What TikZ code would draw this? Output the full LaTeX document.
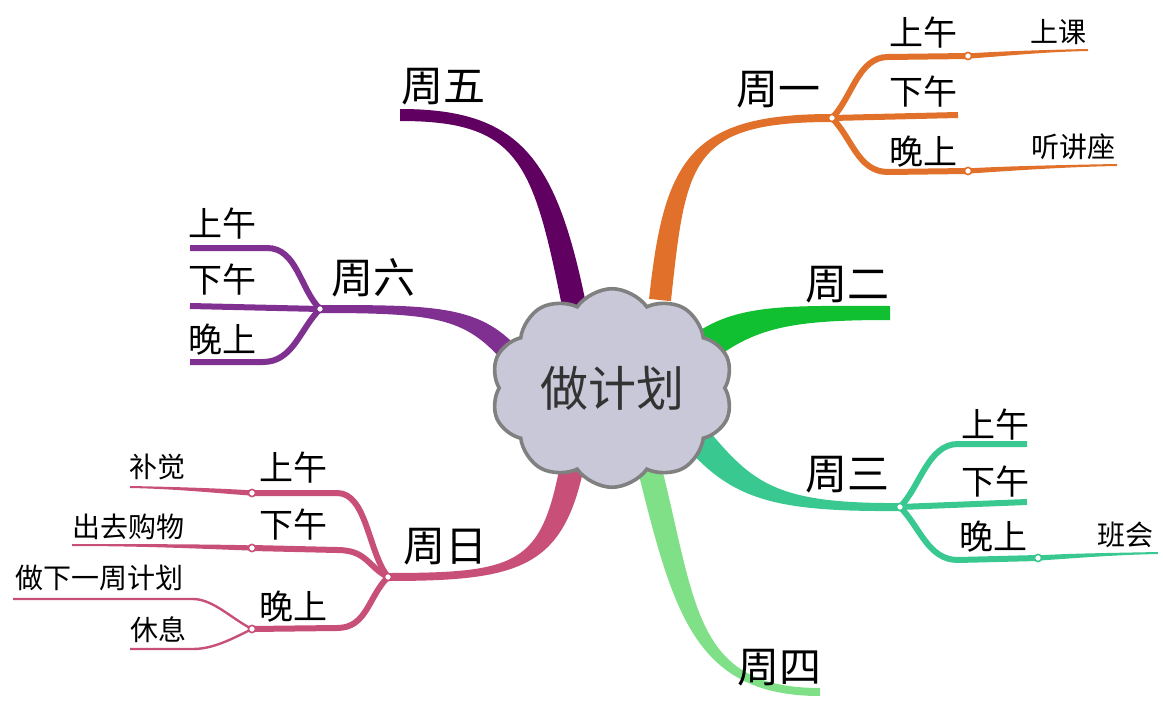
\documentclass[tikz,border=0pt]{standalone}
\usepackage{fontspec}
\setmainfont{Noto Sans CJK SC}
\usetikzlibrary{calc,shapes.symbols}

\definecolor{mon}{HTML}{E0702A}
\definecolor{tue}{HTML}{10C030}
\definecolor{wed}{HTML}{38C890}
\definecolor{thu}{HTML}{80E088}
\definecolor{fri}{HTML}{600060}
\definecolor{sat}{HTML}{803090}
\definecolor{sun}{HTML}{C85078}
\definecolor{cloudfill}{HTML}{C8C8D8}

% tapered branch: colour, start, control 1, control 2, end, half width at start, half width at end
\newcommand{\mapbranch}[7]{%
  \fill[#1] ($(#2)!#6!90:(#3)$) .. controls ($(#3)!#6!-90:(#2)$) and ($(#4)!#7!90:(#5)$) .. ($(#5)!#7!-90:(#4)$)
    -- ($(#5)!#7!90:(#4)$) .. controls ($(#4)!#7!-90:(#5)$) and ($(#3)!#6!90:(#2)$) .. ($(#2)!#6!-90:(#3)$) -- cycle;}

\begin{document}
\begin{tikzpicture}[x=0.5pt, y=-0.5pt,
    day/.style={inner sep=0pt, font=\fontsize{21}{21}\selectfont},
    part/.style={inner sep=0pt, font=\fontsize{17}{17}\selectfont},
    task/.style={inner sep=0pt, font=\fontsize{14}{14}\selectfont},
    sub/.style={line width=3pt},
    thin/.style={line width=1.2pt},
    dot/.style={circle, fill=white, line width=0.8pt, inner sep=0pt, minimum size=3.6pt}
  ]
  \useasboundingbox (0,0) rectangle (1163,706);

  % main branches
  \coordinate (s1) at (660,300); \coordinate (j1) at (832,118);
  \coordinate (s2) at (700,350); \coordinate (e2) at (890,313);
  \coordinate (s3) at (690,430); \coordinate (j3) at (900,507);
  \coordinate (s4) at (650,470); \coordinate (e4) at (820,692);
  \coordinate (s5) at (575,310); \coordinate (e5) at (400,115);
  \coordinate (s6) at (515,360); \coordinate (j6) at (320,309);
  \coordinate (s7) at (575,450); \coordinate (j7) at (388,577);
  \mapbranch{mon}{s1}{675,160}{690,118}{j1}{5.5pt}{2pt}
  \mapbranch{tue}{s2}{745,315}{790,313}{e2}{8pt}{3.5pt}
  \mapbranch{wed}{s3}{740,490}{770,508}{j3}{7pt}{2pt}
  \mapbranch{thu}{s4}{685,610}{695,692}{e4}{6pt}{2pt}
  \mapbranch{fri}{s5}{545,160}{520,115}{e5}{6pt}{3pt}
  \mapbranch{sat}{s6}{475,312}{440,309}{j6}{5pt}{2pt}
  \mapbranch{sun}{s7}{555,565}{525,577}{j7}{6pt}{2pt}

  % Monday
  \coordinate (m1a) at (968,56); \coordinate (m1c) at (968,171);
  \draw[mon, sub] (j1) .. controls +(20,-20) and +(-30,0) .. (888,57) -- (m1a);
  \draw[mon, sub] (j1) -- (958,115);
  \draw[mon, sub] (j1) .. controls +(20,20) and +(-30,0) .. (888,172) -- (m1c);
  \mapbranch{mon}{m1a}{1000,54}{1040,51}{1088,50}{1.3pt}{0.5pt}
  \mapbranch{mon}{m1c}{1000,169}{1060,166}{1117,165}{1.3pt}{0.5pt}

  % Wednesday
  \coordinate (m3c) at (1038,558);
  \draw[wed, sub] (j3) .. controls +(20,-20) and +(-30,0) .. (958,444) -- (1027,444);
  \draw[wed, sub] (j3) -- (1027,502);
  \draw[wed, sub] (j3) .. controls +(20,20) and +(-30,0) .. (958,560) -- (m3c);
  \mapbranch{wed}{m3c}{1070,556}{1110,554}{1158,553}{1.3pt}{0.5pt}

  % Saturday
  \draw[sat, sub] (j6) .. controls +(-20,-20) and +(30,0) .. (267,248) -- (190,248);
  \draw[sat, sub] (j6) -- (190,306);
  \draw[sat, sub] (j6) .. controls +(-20,20) and +(30,0) .. (263,362) -- (190,362);

  % Sunday
  \coordinate (m7a) at (252,493); \coordinate (m7b) at (252,548); \coordinate (m7c) at (252,629);
  \draw[sun, sub] (j7) .. controls +(-20,-25) and +(30,0) .. (337,493) -- (m7a);
  \draw[sun, sub] (j7) .. controls +(-20,-10) and +(30,0) .. (337,550) -- (m7b);
  \draw[sun, sub] (j7) .. controls +(-20,20) and +(30,0) .. (337,628) -- (m7c);
  \mapbranch{sun}{m7a}{220,491}{180,488}{130,487}{1.3pt}{0.5pt}
  \mapbranch{sun}{m7b}{220,547}{150,545}{72,545}{1.3pt}{0.5pt}
  \draw[sun, thin] (m7c) .. controls +(-20,-10) and +(20,0) .. (193,599) -- (13,599);
  \draw[sun, thin] (m7c) .. controls +(-20,10) and +(20,0) .. (193,649) -- (130,649);

  % junction dots
  \foreach \p/\c in {j1/mon,m1a/mon,m1c/mon,j3/wed,m3c/wed,j6/sat,j7/sun,m7a/sun,m7b/sun,m7c/sun}
    \node[dot, draw=\c] at (\p) {};

  % centre
  \node[cloud, cloud puffs=10, cloud puff arc=110, aspect=1.3, fill=cloudfill, draw=gray,
        line width=1.8pt, minimum width=121pt, minimum height=96pt,
        font=\fontsize{24}{24}\selectfont, text=black!80] (plan) at (612,388) {做计划};

  % labels
  \node[day] (n1) at (778,90) {周一};
  \node[day] (n2) at (847,285) {周二};
  \node[day] (n3) at (847,475) {周三};
  \node[day] (n4) at (779,668) {周四};
  \node[day] (n5) at (443,87) {周五};
  \node[day] (n6) at (373,278) {周六};
  \node[day] (n7) at (445,547) {周日};

  \node[part] (n1a) at (923,33) {上午};
  \node[part] (n1b) at (923,92) {下午};
  \node[part] (n1c) at (923,152) {晚上};
  \node[task] (t1a) at (1058,32) {上课};
  \node[task] (t1c) at (1073,147) {听讲座};

  \node[part] (n3a) at (995,425) {上午};
  \node[part] (n3b) at (995,482) {下午};
  \node[part] (n3c) at (993,537) {晚上};
  \node[task] (t3c) at (1125,535) {班会};

  \node[part] (n6a) at (222,224) {上午};
  \node[part] (n6b) at (222,280) {下午};
  \node[part] (n6c) at (222,340) {晚上};

  \node[part] (n7a) at (293,468) {上午};
  \node[part] (n7b) at (293,525) {下午};
  \node[part] (n7c) at (293,607) {晚上};
  \node[task] (t7a) at (157,467) {补觉};
  \node[task] (t7b) at (128,527) {出去购物};
  \node[task] (t7c) at (100,578) {做下一周计划};
  \node[task] (t7d) at (158,630) {休息};
\end{tikzpicture}
\end{document}
